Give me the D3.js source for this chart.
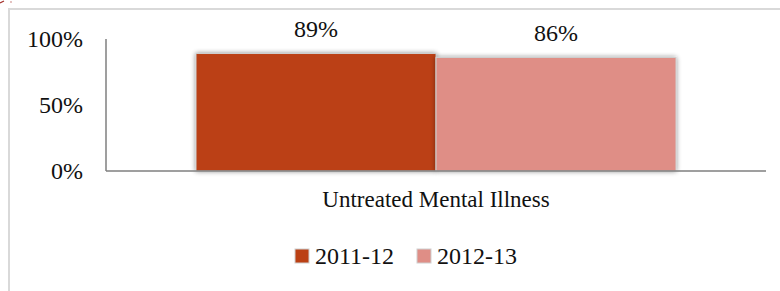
<!DOCTYPE html>
<html>
<head>
<meta charset="utf-8">
<script src="https://cdn.jsdelivr.net/npm/d3@7"></script>
<style>
  body { margin: 0; background: #fff; }
  svg { display: block; font-family: "Liberation Serif", "DejaVu Serif", serif; }
</style>
</head>
<body>
<script>
// chart data
var categories = ["Untreated Mental Illness"];
var seriesNames = ["2011-12", "2012-13"];
var seriesValues = [[0.89], [0.86]];
var seriesColors = ["#bb4014", "#df8e86"];
var yTicks = [0, 0.5, 1];

var W = 780, H = 291;
var FS = "24px";
var svg = d3.select("body").append("svg")
    .attr("width", W)
    .attr("height", H);

// drop shadow for the bars
var defs = svg.append("defs");
var f = defs.append("filter").attr("id", "shadow")
    .attr("x", "-10%").attr("y", "-10%").attr("width", "120%").attr("height", "120%");
f.append("feGaussianBlur").attr("in", "SourceAlpha").attr("stdDeviation", 2.5).attr("result", "b");
f.append("feComponentTransfer").attr("in", "b").attr("result", "s")
  .append("feFuncA").attr("type", "linear").attr("slope", 0.45);
var m = f.append("feMerge");
m.append("feMergeNode").attr("in", "s");
m.append("feMergeNode").attr("in", "SourceGraphic");

// bit of the line above that got cut off, and the frame
svg.append("path")
    .attr("d", "M0,3L4,1M11,1.5v1")
    .attr("fill", "none")
    .attr("stroke", "#a5322d")
    .attr("stroke-width", 1.2);
svg.append("path")
    .attr("d", "M9," + H + "V9H" + W)
    .attr("fill", "none")
    .attr("stroke", "#d9d9d9")
    .attr("stroke-width", 2);

var plot = {left: 106, right: 766, top: 39, bottom: 171};

var x0 = d3.scaleBand().domain(categories)
    .range([plot.left, plot.right])
    .paddingInner(0).paddingOuter(0.1875);
var x1 = d3.scaleBand().domain(seriesNames)
    .range([0, x0.bandwidth()]);
var y = d3.scaleLinear().domain([0, 1]).range([plot.bottom, plot.top]);

// bars
categories.forEach(function(cat, ci){
    seriesNames.forEach(function(s, si){
        var v = seriesValues[si][ci];
        var bx = x0(cat) + x1(s);
        svg.append("rect")
            .attr("x", bx)
            .attr("y", y(v))
            .attr("width", x1.bandwidth())
            .attr("height", y(0) - y(v))
            .attr("fill", seriesColors[si])
            .attr("stroke", "#d0d0d0")
            .attr("stroke-width", 1)
            .attr("filter", "url(#shadow)");
        svg.append("text")
            .attr("x", bx + x1.bandwidth() / 2)
            .attr("y", y(v) - 16.5)
            .attr("text-anchor", "middle")
            .attr("fill", "#111")
            .style("font-size", FS)
            .text(d3.format(".0%")(v));
    });
});

// axes
var yAxis = d3.axisLeft(y).tickValues(yTicks).tickSize(0).tickPadding(23)
    .tickFormat(d3.format(".0%"));
var ga = svg.append("g").attr("transform", "translate(" + plot.left + ",0)").call(yAxis);
ga.select(".domain").remove();
ga.selectAll("text")
    .attr("fill", "#111")
    .style("font-family", "Liberation Serif, serif")
    .style("font-size", FS);

svg.append("line")
    .attr("x1", plot.left).attr("x2", plot.left)
    .attr("y1", plot.top).attr("y2", plot.bottom)
    .attr("stroke", "#7f7f7f").attr("stroke-width", 1.5);
svg.append("line")
    .attr("x1", plot.left).attr("x2", plot.right)
    .attr("y1", plot.bottom).attr("y2", plot.bottom)
    .attr("stroke", "#7f7f7f").attr("stroke-width", 1.5);

// category labels
categories.forEach(function(cat){
    svg.append("text")
        .attr("x", x0(cat) + x0.bandwidth() / 2)
        .attr("y", 207)
        .attr("text-anchor", "middle")
        .attr("fill", "#111")
        .style("font-size", "23px")
        .text(cat);
});

// legend
var legX = [295, 417];
seriesNames.forEach(function(s, i){
    svg.append("rect")
        .attr("x", legX[i]).attr("y", 249)
        .attr("width", 14).attr("height", 14)
        .attr("fill", seriesColors[i])
        .attr("stroke", "#cfcfcf").attr("stroke-width", 1);
    svg.append("text")
        .attr("x", legX[i] + 20).attr("y", 264)
        .attr("fill", "#111")
        .style("font-size", FS)
        .text(s);
});
</script>
</body>
</html>
